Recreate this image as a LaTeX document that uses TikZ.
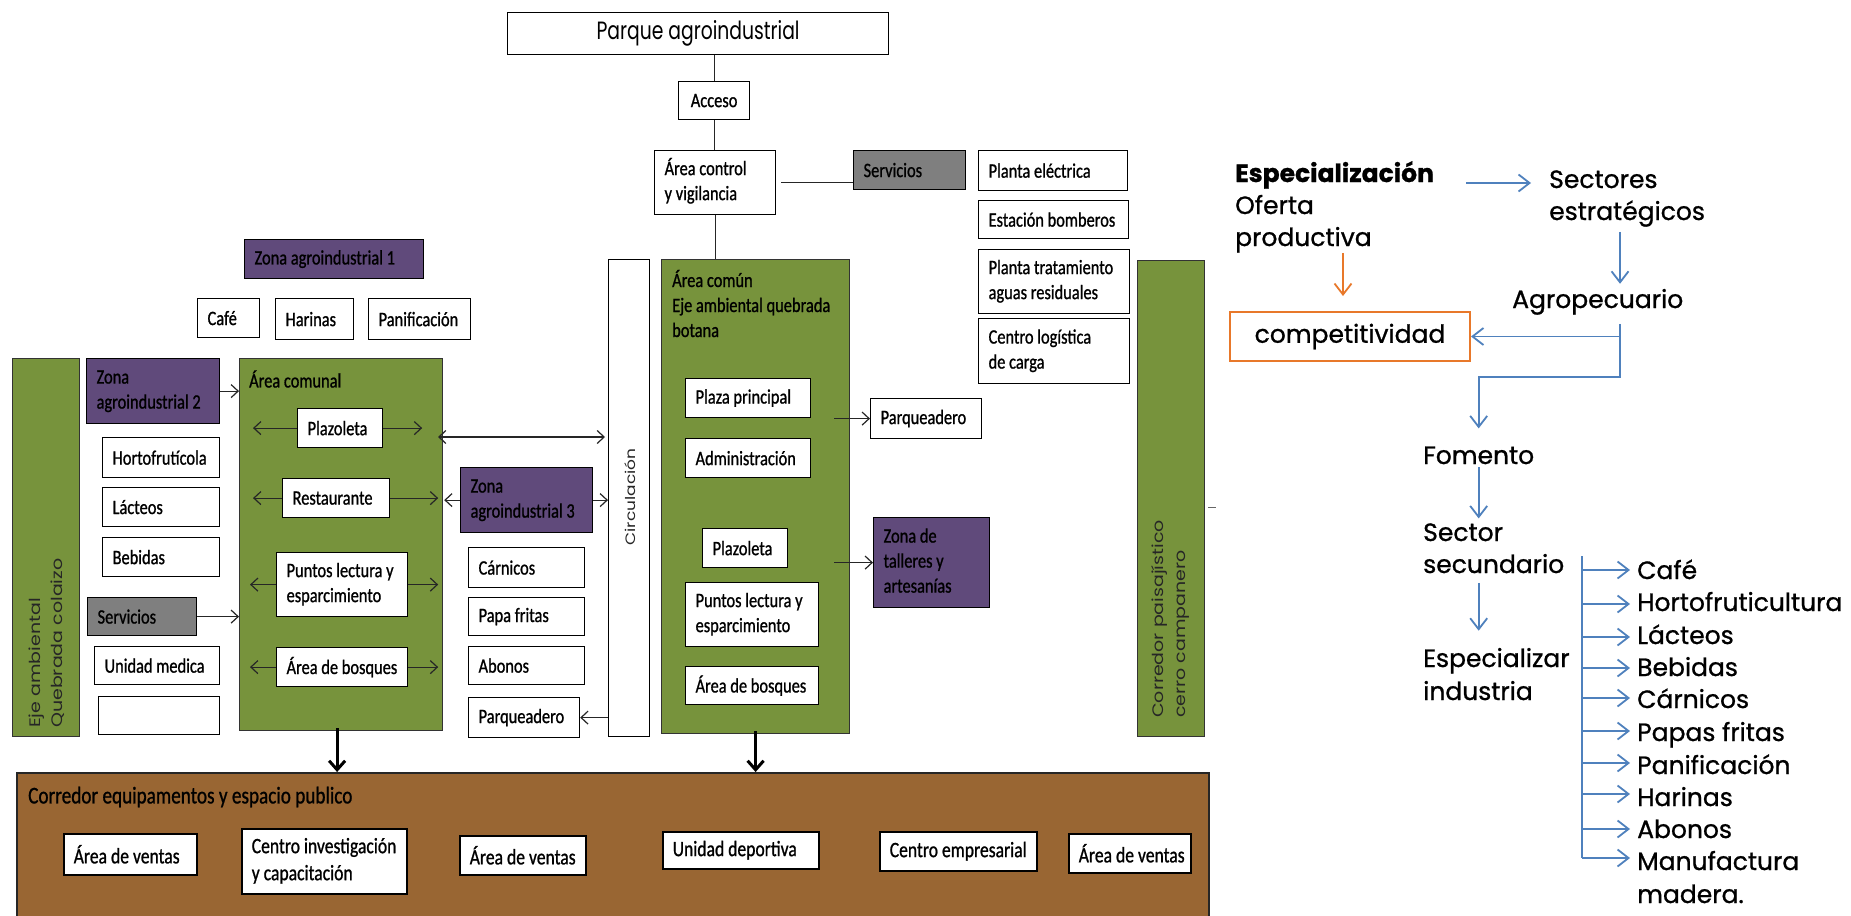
\documentclass[tikz,border=0pt]{standalone}
\usepackage{fontspec}
\usepackage{graphicx}
\setmainfont{Carlito}
\newfontfamily\calf[FakeStretch=0.8,FakeBold=0.9]{Carlito}
\newfontfamily\gotf{Poppins}
\newfontfamily\gotr[FakeBold=0.9]{Poppins}
\newfontfamily\gotn[FakeStretch=0.75]{Poppins}
\usetikzlibrary{arrows.meta,calc}
\definecolor{olive}{HTML}{77933C}
\definecolor{zpurple}{HTML}{604A7B}
\definecolor{sgray}{HTML}{7F7F7F}
\definecolor{cbrown}{HTML}{996633}
\definecolor{oblue}{HTML}{4F81BD}
\definecolor{oorange}{HTML}{E8782A}
\newcommand\tlines[1]{\begin{tabular}{@{}l@{}}#1\end{tabular}}
\newcommand\tlinest[1]{\begin{tabular}[t]{@{}l@{}}#1\end{tabular}}
% style, align, name, x1, y1, x2, y2, text
\newcommand\mybox[8]{%
  \pgfmathsetmacro\bxw{#6-#4}\pgfmathsetmacro\bxh{#7-#5}\pgfmathsetmacro\bxt{#6-#4-20}%
  \node[#1, anchor=north west, minimum width=\bxw pt, minimum height=\bxh pt,
        inner xsep=10pt, inner ysep=0pt] (#3) at (#4,#5) {\makebox[\bxt pt][#2]{#8}};}
\begin{document}
\begin{tikzpicture}[x=1pt,y=-1pt,
  base/.style={draw=black, line width=1.2pt, font=\calf\fontsize{20.5}{25}\selectfont, text=black},
  wbox/.style={base, fill=white},
  gbox/.style={base, fill=olive, draw=black!80},
  pbox/.style={base, fill=zpurple},
  sbox/.style={base, fill=sgray},
  brbox/.style={base, fill=cbrown, draw=black!85, line width=1.5pt},
  bbox/.style={base, fill=white, line width=1.5pt, font=\calf\fontsize{22}{27}\selectfont},
  lbl/.style={inner sep=0pt, font=\calf\fontsize{20.5}{25}\selectfont, text=black},
  rot/.style={rotate=90, inner sep=0pt, font=\gotf\fontsize{19}{27}\selectfont, text=black!85},
  conn/.style={line width=1.2pt, draw=black!85},
  arr/.style={conn, -{Straight Barb[length=7pt,width=13pt]}},
  darr/.style={conn, {Straight Barb[length=7pt,width=13pt]}-{Straight Barb[length=7pt,width=13pt]}},
  tarr/.style={line width=3pt, -{Straight Barb[length=9pt,width=16pt]}},
  rt/.style={inner sep=0pt, font=\gotr\fontsize{25}{32}\selectfont, text=black},
  bline/.style={draw=oblue, line width=1.8pt},
  barr/.style={bline, -{Straight Barb[length=11pt,width=17pt]}},
  oarr/.style={draw=oorange, line width=1.8pt, -{Straight Barb[length=11pt,width=17pt]}}
]
\fill[white] (0,0) rectangle (1851,915);
\useasboundingbox (0,0) rectangle (1851,915);

% ---------- left diagram: containers first ----------
\mybox{brbox}{l}{brown}{16}{772}{1208}{935}{}
\mybox{gbox}{l}{eje}{12}{358}{79}{736}{}
\mybox{gbox}{l}{comunal}{239}{358}{442}{730}{}
\mybox{wbox}{l}{circ}{608}{259}{649}{736}{}
\mybox{gbox}{l}{comun}{661}{259}{849}{733}{}
\mybox{gbox}{l}{corr}{1137}{260}{1204}{736}{}

% top
\mybox{wbox}{c}{parque}{507}{12}{888}{54}{\gotn\fontsize{25}{30}\selectfont Parque agroindustrial}
\mybox{wbox}{c}{acceso}{678}{81}{749}{119}{Acceso}
\mybox{wbox}{l}{control}{654}{150}{775}{214}{\tlines{Área control\\y vigilancia}}
\mybox{sbox}{l}{serv1}{853}{150}{965}{189}{Servicios}
\mybox{wbox}{l}{pelec}{978}{150}{1127}{190}{Planta eléctrica}
\mybox{wbox}{l}{bomb}{978}{200}{1128}{238}{Estación bomberos}
\mybox{wbox}{l}{ptrat}{978}{249}{1129}{313}{\tlines{Planta tratamiento\\aguas residuales}}
\mybox{wbox}{l}{clog}{978}{318}{1129}{383}{\tlines{Centro logística\\de carga}}
\mybox{pbox}{l}{zona1}{244}{239}{423}{278}{Zona agroindustrial 1}
\mybox{wbox}{l}{cafe}{197}{298}{259}{337}{Café}
\mybox{wbox}{l}{harinas}{275}{298}{353}{339}{Harinas}
\mybox{wbox}{l}{panif}{368}{298}{470}{339}{Panificación}

% left column
\mybox{pbox}{l}{zona2}{86}{358}{219}{423}{\tlines{Zona\\agroindustrial 2}}
\mybox{wbox}{l}{horto}{102}{437}{219}{477}{Hortofrutícola}
\mybox{wbox}{l}{lact}{102}{487}{219}{526}{Lácteos}
\mybox{wbox}{l}{bebi}{102}{537}{219}{576}{Bebidas}
\mybox{sbox}{l}{serv2}{87}{597}{196}{635}{Servicios}
\mybox{wbox}{l}{umed}{94}{646}{219}{684}{Unidad medica}
\mybox{wbox}{l}{vacio}{98}{696}{219}{734}{}

% area comunal
\node[lbl, anchor=west] (comunalt) at (249,379) {Área comunal};
\mybox{wbox}{l}{plaz1}{297}{408}{382}{447}{Plazoleta}
\mybox{wbox}{l}{rest}{282}{478}{389}{517}{Restaurante}
\mybox{wbox}{l}{punt1}{276}{552}{407}{616}{\tlines{Puntos lectura y\\esparcimiento}}
\mybox{wbox}{l}{bosq1}{276}{647}{407}{686}{Área de bosques}

% zona 3
\mybox{pbox}{l}{zona3}{460}{467}{592}{532}{\tlines{Zona\\agroindustrial 3}}
\mybox{wbox}{l}{carn}{468}{547}{584}{587}{Cárnicos}
\mybox{wbox}{l}{papa}{468}{597}{584}{635}{Papa fritas}
\mybox{wbox}{l}{abon}{468}{646}{584}{684}{Abonos}
\mybox{wbox}{l}{parq1}{468}{697}{579}{737}{Parqueadero}

% area comun
\node[lbl, anchor=west] (comunt) at (672,307) {\tlines{Área común\\Eje ambiental quebrada\\botana}};
\mybox{wbox}{l}{plaza}{685}{378}{810}{417}{Plaza principal}
\mybox{wbox}{l}{admin}{685}{438}{810}{477}{Administración}
\mybox{wbox}{l}{plaz2}{702}{528}{787}{567}{Plazoleta}
\mybox{wbox}{l}{punt2}{685}{582}{818}{646}{\tlines{Puntos lectura y\\esparcimiento}}
\mybox{wbox}{l}{bosq2}{685}{666}{818}{704}{Área de bosques}
\mybox{wbox}{l}{parq2}{870}{398}{981}{438}{Parqueadero}
\mybox{pbox}{l}{talleres}{873}{517}{989}{607}{\tlines{Zona de\\talleres y\\artesanías}}

% rotated labels
\node[rot, anchor=west] (ejet) at (47,728) {\scalebox{1}[0.8]{\tlines{Eje ambiental\\Quebrada colaizo}}};
\node[rot, font=\gotf\fontsize{17}{22}\selectfont] (circt) at (630,497) {\scalebox{1}[0.8]{Circulación}};
\node[rot, anchor=west] (corrt) at (1170,718) {\scalebox{1}[0.8]{\tlines{Corredor paisajístico\\cerro campanero}}};

% bottom corridor
\node[lbl, anchor=west, font=\calf\fontsize{24}{28}\selectfont] (brownt) at (28,797) {Corredor equipamentos y espacio publico};
\mybox{bbox}{l}{vent1}{63}{833}{196}{874}{Área de ventas}
\mybox{bbox}{l}{cinv}{241}{828}{406}{893}{\tlines{Centro investigación\\y capacitación}}
\mybox{bbox}{l}{vent2}{459}{835}{585}{874}{Área de ventas}
\mybox{bbox}{l}{udep}{662}{831}{818}{868}{Unidad deportiva}
\mybox{bbox}{l}{cemp}{879}{831}{1036}{870}{Centro empresarial}
\mybox{bbox}{l}{vent3}{1068}{833}{1190}{872}{Área de ventas}

% connectors (left)
\draw[conn] (acceso.north |- parque.south) -- (acceso.north);
\draw[conn] (acceso.south) -- (acceso.south |- control.north);
\draw[conn] (control.south) -- (control.south |- comun.north);
\draw[conn] ([xshift=5pt]control.east) -- (control.east -| serv1.west);
\draw[arr] (zona2.east) -- (zona2.east -| comunal.west);
\draw[arr] (serv2.east) -- (serv2.east -| comunal.west);
\draw[arr] (plaz1.west) -- ($(plaz1.west -| comunal.west)+(14,0)$);
\draw[arr] (plaz1.east) -- ($(plaz1.east -| comunal.east)+(-21,0)$);
\draw[arr] (rest.west) -- ($(rest.west -| comunal.west)+(14,0)$);
\draw[arr] (rest.east) -- ($(rest.east -| comunal.east)+(-5,0)$);
\draw[arr] (punt1.west) -- ($(punt1.west -| comunal.west)+(11,0)$);
\draw[arr] (punt1.east) -- ($(punt1.east -| comunal.east)+(-5,0)$);
\draw[arr] (bosq1.west) -- ($(bosq1.west -| comunal.west)+(11,0)$);
\draw[arr] (bosq1.east) -- ($(bosq1.east -| comunal.east)+(-5,0)$);
\draw[arr] (zona3.west) -- ($(zona3.west -| comunal.east)+(1,0)$);
\coordinate (dA) at (438,437);
\draw[darr] (dA) -- ($(dA -| circ.west)+(-3,0)$);
\draw[arr] (zona3.east) -- (zona3.east -| circ.west);
\draw[arr] (circ.west |- parq1.east) -- (parq1.east);
\draw[arr] ($(comun.east |- parq2.west)+(-16,0)$) -- (parq2.west);
\draw[arr] ($(comun.east |- talleres.west)+(-16,0)$) -- (talleres.west);
\draw[tarr] ($(comunal.south)+(-4,-3)$) -- ($(comunal.south |- brown.north)+(-4,0)$);
\draw[tarr] ($(comun.south)+(0,-3)$) -- (comun.south |- brown.north);
\draw[line width=1pt, black!60] ($(corr.east)+(3,9)$) -- ($(corr.east)+(11,9)$);

% ---------- right diagram ----------
\node[rt, anchor=base west] (espec) at (1235,182) {\tlinest{\bfseries Especialización\\Oferta\\productiva}};
\node[rt, anchor=base west] (sect) at (1549,188) {\tlinest{Sectores\\estratégicos}};
\node[rt, anchor=base west] (agro) at (1512,308) {Agropecuario};
\node[rt, draw=oorange, line width=2pt, minimum width=240pt, minimum height=49pt] (compet) at (1350,336.5) {competitividad};
\node[rt, anchor=base west] (foment) at (1423,464) {Fomento};
\node[rt, anchor=base west] (sector) at (1423,541) {\tlinest{Sector\\secundario}};
\node[rt, anchor=base west, font=\gotr\fontsize{25}{33}\selectfont] (espind) at (1423,667) {\tlinest{Especializar\\industria}};

\node[rt, anchor=base west] (i1) at (1637,579) {Café};
\node[rt, anchor=base west] (i2) at (1637,611) {Hortofruticultura};
\node[rt, anchor=base west] (i3) at (1637,644) {Lácteos};
\node[rt, anchor=base west] (i4) at (1637,676) {Bebidas};
\node[rt, anchor=base west] (i5) at (1637,708) {Cárnicos};
\node[rt, anchor=base west] (i6) at (1637,741) {Papas fritas};
\node[rt, anchor=base west] (i7) at (1637,774) {Panificación};
\node[rt, anchor=base west] (i8) at (1637,806) {Harinas};
\node[rt, anchor=base west] (i9) at (1637,838) {Abonos};
\node[rt, anchor=base west, font=\gotr\fontsize{25}{33}\selectfont] (i10) at (1637,870) {\tlinest{Manufactura\\madera.}};

\coordinate (vA) at (1620,0);
\coordinate (vO) at (1343,0);
\coordinate (j1) at (1620,377);
\coordinate (tt) at (1582,556);

\draw[barr] ($(espec.base east)+(32,1)$) -- ($(sect.base west |- espec.base east)+(-18,1)$);
\draw[barr] ($(vA |- sect.south)+(0,2)$) -- ($(vA |- agro.north)+(0,-5)$);
\draw[oarr] ($(vO |- espec.south)+(0,-3)$) -- ($(vO |- compet.north)+(0,-15)$);
\draw[barr] ($(j1 |- agro.south)+(0,9)$) -- (j1) -- (j1 -| foment.north) -- ($(foment.north)+(0,-18)$);
\draw[barr] (j1 |- compet.east) -- (compet.east);
\draw[barr] ($(foment.south)+(0,3)$) -- (foment.south |- sector.north);
\draw[barr] (foment.south |- sector.south) -- ($(foment.south |- espind.north)+(0,-13)$);

\draw[bline] (tt) -- ($(tt |- i10.base west)+(0,-12)$);
\foreach \n/\dy in {i1/-9,i2/-7,i3/-7,i4/-8,i5/-10,i6/-10,i7/-11,i8/-12,i9/-9,i10/-12}{
  \draw[barr] ($(tt |- \n.base west)+(0,\dy)$) -- ($(\n.base west)+(-7,\dy)$);
}
\end{tikzpicture}
\end{document}
